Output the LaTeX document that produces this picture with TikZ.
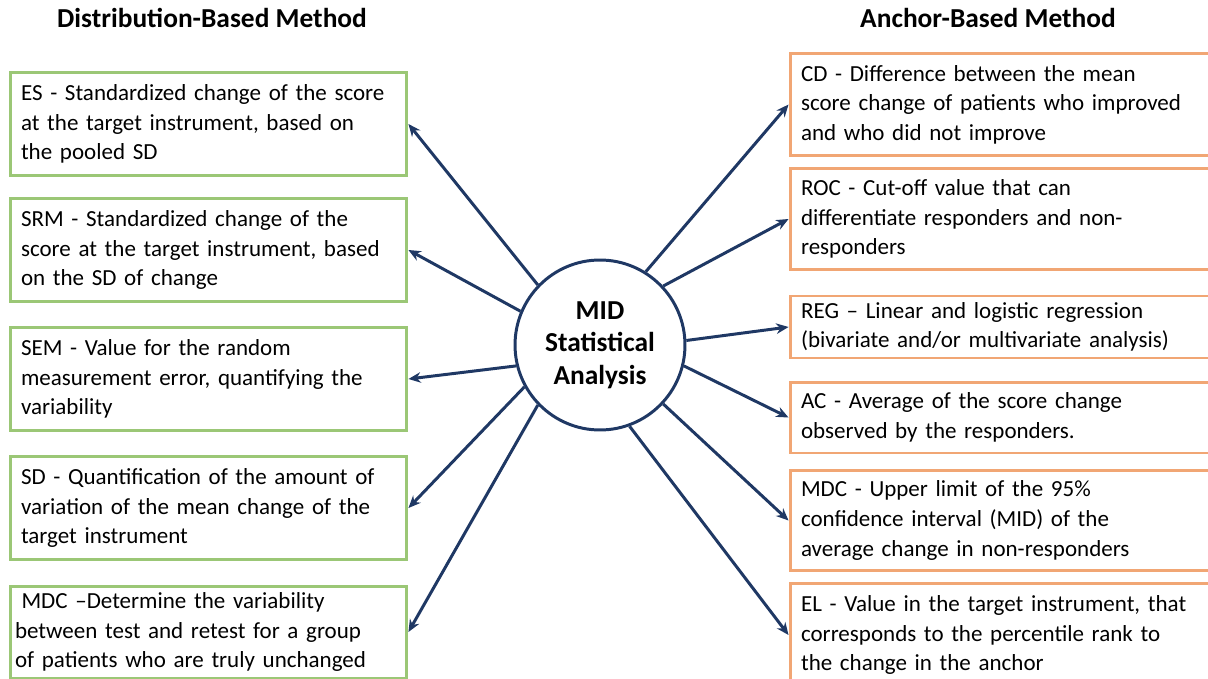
\documentclass[tikz,border=0pt]{standalone}
\usepackage{fontspec}
\setmainfont{Carlito}
\usepackage{tikz}
\usetikzlibrary{arrows.meta}
\usepackage{xcolor}
\definecolor{boxgreen}{RGB}{155,199,118}
\definecolor{boxorange}{RGB}{241,166,116}
\definecolor{arrowblue}{RGB}{31,56,100}

\begin{document}
\begin{tikzpicture}[x=0.02cm, y=-0.02cm,
    boxtext/.style={line width=1.7pt, align=left, inner xsep=0.22cm, font=\fontsize{13.1}{16.8}\selectfont},
    leftbox/.style={boxtext, draw=boxgreen, text width=7.5cm},
    rightbox/.style={boxtext, draw=boxorange, text width=7.96cm},
    head/.style={font=\fontsize{15.6}{18}\selectfont\bfseries},
    hub/.style={circle, draw=arrowblue, line width=1.7pt, minimum size=3.4cm, inner sep=0pt, align=center, font=\fontsize{15.6}{18.4}\selectfont\bfseries},
    arr/.style={-{Stealth[length=7pt,width=6pt]}, line width=1.7pt, arrowblue}]
    \useasboundingbox (0,0) rectangle (1208,679);

    % Headings
    \node[head] (disthead) at (212,18) {Distribution-Based Method};
    \node[head] (anchhead) at (988,18) {Anchor-Based Method};

    % Centre
    \node[hub] (mid) at (600,345) {MID\\Statistical\\Analysis};

    % Distribution-based boxes
    \node[leftbox, minimum height=2.08cm] (es) at (208.5,124)
        {ES - Standardized change of the score\\at the target instrument, based on\\the pooled SD};
    \node[leftbox, minimum height=2.08cm] (srm) at (208.5,250)
        {SRM - Standardized change of the\\score at the target instrument, based\\on the SD of change};
    \node[leftbox, minimum height=2.08cm] (sem) at (208.5,379)
        {SEM - Value for the random\\measurement error, quantifying the\\variability};
    \node[leftbox, minimum height=2.08cm] (sd) at (208.5,508)
        {SD - Quantification of the amount of\\variation of the mean change of the\\target instrument};
    \node[leftbox, minimum height=1.84cm, inner xsep=0.1cm, text width=7.74cm] (mdcl) at (208.5,632)
        {\hspace{0.13cm}MDC --Determine the variability\\between test and retest for a group\\of patients who are truly unchanged};

    % Anchor-based boxes
    \node[rightbox, minimum height=2.06cm] (cd) at (1000,104.5)
        {CD - Difference between the mean\\score change of patients who improved\\and who did not improve};
    \node[rightbox, minimum height=2.04cm] (roc) at (1000,219)
        {ROC - Cut-off value that can\\differentiate responders and non-\\responders};
    \node[rightbox, minimum height=1.24cm] (reg) at (1000,327)
        {REG -- Linear and logistic regression\\(bivariate and/or multivariate analysis)};
    \node[rightbox, minimum height=1.42cm] (ac) at (1000,417.5)
        {AC - Average of the score change\\observed by the responders.};
    \node[rightbox, minimum height=2.02cm] (mdcr) at (1000,520.5)
        {MDC - Upper limit of the 95\%\\confidence interval (MID) of the\\average change in non-responders};
    \node[rightbox, minimum height=2.08cm] (el) at (1000,635)
        {EL - Value in the target instrument, that\\corresponds to the percentile rank to\\the change in the anchor};

    % Arrows out of the circle
    \foreach \a/\b in {136/es, 157/srm, 194/sem, 209/sd, 224/mdcl} {
        \draw[arr] (mid.\a) -- (\b.east);
    }
    \foreach \a/\b in {58/cd, 43/roc, 3/reg, 346/ac, 317/mdcr, 290/el} {
        \draw[arr] (mid.\a) -- (\b.west);
    }
\end{tikzpicture}
\end{document}
